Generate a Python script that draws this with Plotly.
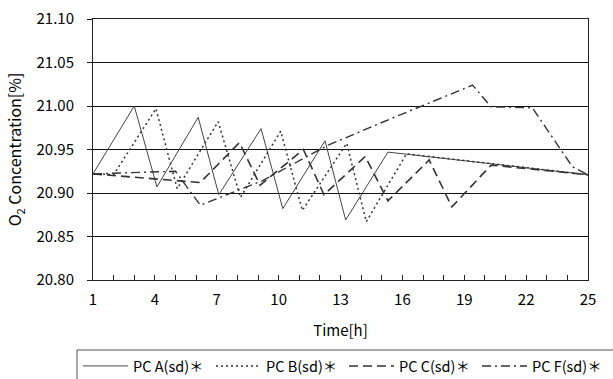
import plotly.graph_objects as go

# ---- data ----
a_time = [1, 3.0, 4.1, 6.1, 7.1, 9.15, 10.2, 12.25, 13.25, 15.3, 25]
a_conc = [20.922, 21.000, 20.907, 20.987, 20.898, 20.974, 20.882, 20.960, 20.869, 20.947, 20.921]

b_time = [1, 2, 4.05, 5.08, 7.07, 8.15, 10.1, 11.15, 13.3, 14.25, 16.2, 25]
b_conc = [20.922, 20.921, 20.997, 20.905, 20.982, 20.895, 20.971, 20.880, 20.957, 20.867, 20.945, 20.921]

c_time = [1, 6.2, 8.1, 9.1, 11.2, 12.2, 14.2, 15.3, 17.3, 18.4, 20.3, 25]
c_conc = [20.922, 20.912, 20.958, 20.909, 20.950, 20.898, 20.942, 20.891, 20.938, 20.884, 20.932, 20.921]

f_time = [1, 5.0, 6.2, 9.2, 12.4, 15.4, 19.4, 20.3, 22.3, 24.25, 25]
f_conc = [20.922, 20.925, 20.886, 20.914, 20.955, 20.985, 21.024, 20.999, 20.998, 20.930, 20.921]

x_ticks = list(range(1, 26))
x_labels = [str(v) if (v - 1) % 3 == 0 else "" for v in x_ticks]
y_ticks = [20.80, 20.85, 20.90, 20.95, 21.00, 21.05, 21.10]
y_labels = ["20.80", "20.85", "20.90", "20.95", "21.00", "21.05", "21.10"]

names = ["PC A(sd)＊", "PC B(sd)＊", "PC C(sd)＊", "PC F(sd)＊"]

FONT = "Noto Sans CJK JP, Liberation Sans, sans-serif"
W, H = 613, 379
L, R, T, B = 93, 25, 19, 99
pw, ph = W - L - R, H - T - B

fig = go.Figure()
styles = [
    dict(color="#444444", width=1, dash="solid"),
    dict(color="#333333", width=1.5, dash="2px,3px"),
    dict(color="#333333", width=1.6, dash="9px,5px"),
    dict(color="#333333", width=1.4, dash="9px,4px,2px,4px"),
]
for nm, xs, ys, st in zip(names, [a_time, b_time, c_time, f_time],
                          [a_conc, b_conc, c_conc, f_conc], styles):
    fig.add_trace(go.Scatter(x=xs, y=ys, mode="lines", name=nm, line=st))

def px_x(p):
    return (p - L) / pw

def px_y(p):
    return (H - B - p) / ph

# legend frame (extends off the canvas like in the reference)
fig.add_shape(type="rect", xref="paper", yref="paper",
              x0=px_x(77), x1=px_x(700), y0=px_y(350), y1=px_y(450),
              line=dict(color="#555555", width=1), fillcolor="rgba(0,0,0,0)")

fig.update_layout(
    width=W, height=H,
    margin=dict(l=L, r=R, t=T, b=B, pad=0, autoexpand=False),
    paper_bgcolor="white", plot_bgcolor="white",
    font=dict(family=FONT, size=15, color="#000000"),
    showlegend=True,
    legend=dict(orientation="h", x=px_x(78), y=px_y(350), xanchor="left", yanchor="top",
                font=dict(size=14.5, family=FONT, color="#000000"),
                itemwidth=45, entrywidth=73, tracegroupgap=0,
                bgcolor="rgba(0,0,0,0)", borderwidth=0),
    xaxis=dict(range=[1, 25], tickmode="array", tickvals=x_ticks, ticktext=x_labels,
               ticks="inside", ticklen=5, tickcolor="#222222",
               showline=True, linecolor="#222222", linewidth=1, mirror=True,
               showgrid=False, zeroline=False, ticklabelstandoff=6,
               tickfont=dict(size=15, family=FONT),
               title=dict(text="Time[h]", font=dict(size=15, family=FONT), standoff=17)),
    yaxis=dict(range=[20.80, 21.10], tickmode="array", tickvals=y_ticks, ticktext=y_labels,
               ticks="outside", ticklen=5, tickcolor="#222222",
               showline=True, linecolor="#222222", linewidth=1, mirror=True,
               showgrid=True, gridcolor="#111111", gridwidth=1, zeroline=False,
               ticklabelstandoff=10,
               tickfont=dict(size=15, family=FONT),
               title=dict(text="O<sub>2</sub> Concentration[%]", font=dict(size=16, family=FONT), standoff=10)),
)

fig.write_html("out.html")
